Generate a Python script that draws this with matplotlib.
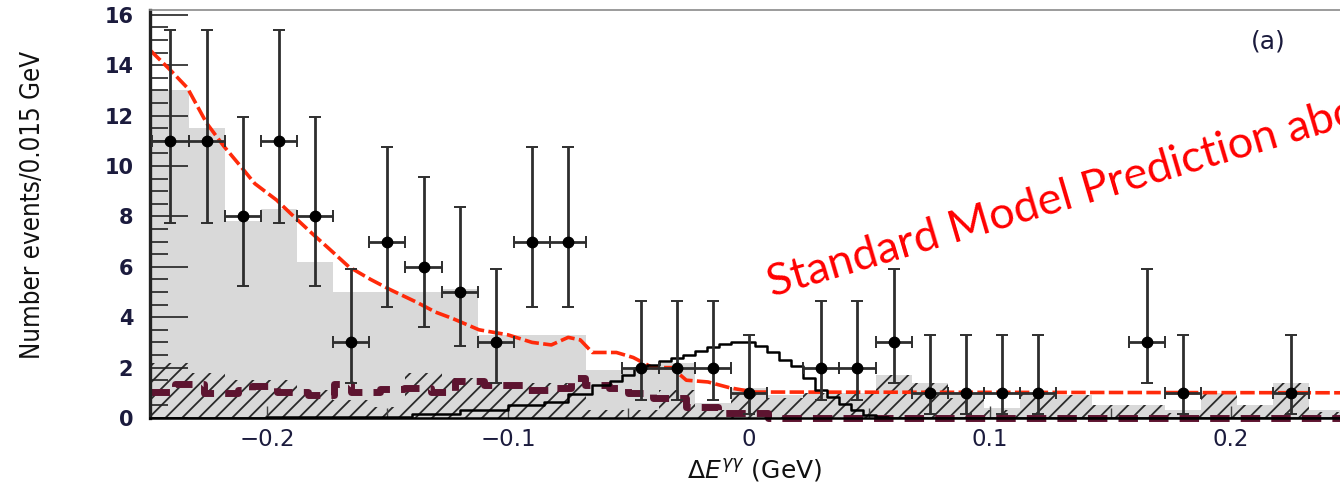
import numpy as np
import matplotlib
matplotlib.use("Agg")
import matplotlib.pyplot as plt
from matplotlib import font_manager
from matplotlib.ticker import MultipleLocator

# ---------------- data ----------------
# bin centres (0.015 GeV bins)
bin_centers = [-0.24, -0.225, -0.21, -0.195, -0.18, -0.165, -0.15, -0.135, -0.12,
               -0.105, -0.09, -0.075, -0.06, -0.045, -0.03, -0.015, 0.0, 0.015,
               0.03, 0.045, 0.06, 0.075, 0.09, 0.105, 0.12, 0.135, 0.15, 0.165,
               0.18, 0.195, 0.21, 0.225, 0.24]
counts = [11, 11, 8, 11, 8, 3, 7, 6, 5, 3, 7, 7, 0, 2, 2, 2, 1, 0,
          2, 2, 3, 1, 1, 1, 1, 0, 0, 3, 1, 0, 0, 1, 0]
# 68% Poisson intervals used for the error bars
poisson_lo = {1: 0.17, 2: 0.71, 3: 1.37, 5: 2.84, 6: 3.62, 7: 4.42, 8: 5.24, 11: 7.73}
poisson_hi = {1: 3.30, 2: 4.64, 3: 5.92, 5: 8.38, 6: 9.58, 7: 10.77, 8: 11.94, 11: 15.41}

# total background (grey) and peaking background (hatched)
bkg_total = [13.0, 11.5, 7.8, 8.3, 6.2, 5.0, 5.0, 5.0, 5.1, 3.3, 3.3, 3.3, 1.9, 1.9,
             2.2, 0.6, 1.2, 0.9, 1.0, 1.0, 1.7, 1.4, 0.9, 0.4, 1.0, 0.9, 0.5, 0.5,
             0.3, 1.0, 0.5, 1.4, 0.3]
bkg_peaking = [2.2, 1.8, 1.5, 1.5, 1.1, 0.7, 0.45, 1.8, 1.6, 1.4, 1.4, 1.4, 0.3, 0.3,
               1.1, 0.3, 1.0, 0.8, 1.0, 1.0, 1.7, 1.4, 0.8, 0.3, 1.0, 0.9, 0.5, 0.5,
               0.2, 1.0, 0.5, 1.4, 0.25]

# fit projection (red dashed)
fit_x = [-0.2485, -0.24, -0.233, -0.225, -0.218, -0.211, -0.205, -0.196, -0.19,
         -0.181, -0.174, -0.166, -0.157, -0.149, -0.138, -0.13, -0.123, -0.112,
         -0.1, -0.09, -0.082, -0.075, -0.07, -0.065, -0.055, -0.048, -0.04,
         -0.032, -0.026, -0.017, -0.008, 0.002, 0.25]
fit_y = [14.6, 13.8, 13.1, 11.7, 10.8, 10.0, 9.3, 8.65, 8.1, 7.3, 6.7, 6.0, 5.5,
         5.1, 4.6, 4.2, 3.95, 3.5, 3.3, 3.0, 2.9, 3.2, 3.1, 2.6, 2.6, 2.4, 2.0,
         2.0, 1.5, 1.43, 1.2, 1.03, 1.0]

# non-peaking component (maroon dashed, step starts)
comb_x = [-0.2485, -0.238, -0.226, -0.212, -0.206, -0.196, -0.183, -0.172, -0.165,
          -0.153, -0.143, -0.132, -0.122, -0.11, -0.093, -0.082, -0.074, -0.068,
          -0.058, -0.05, -0.04, -0.026, -0.013, 0.008, 0.25]
comb_y = [1.03, 1.35, 1.0, 1.1, 1.25, 1.03, 0.9, 1.35, 1.03, 1.15, 1.2, 1.03, 1.45,
          1.3, 1.1, 1.2, 1.6, 1.3, 1.2, 1.0, 0.8, 0.44, 0.2, 0.0, 0.0]

# signal shape (black step line)
sig_x = [-0.25, -0.15, -0.13, -0.11, -0.09, -0.08, -0.07, -0.06, -0.055, -0.05,
         -0.045, -0.04, -0.035, -0.03, -0.025, -0.02, -0.015, -0.01, -0.005, 0.0,
         0.005, 0.01, 0.015, 0.02, 0.025, 0.03, 0.035, 0.04, 0.045, 0.05, 0.055,
         0.06, 0.25]
sig_y = [0.0, 0.05, 0.15, 0.3, 0.5, 0.65, 0.95, 1.3, 1.45, 1.7, 2.0, 2.1, 2.25,
         2.4, 2.5, 2.65, 2.8, 2.95, 3.0, 3.0, 2.85, 2.6, 2.3, 2.05, 1.6, 1.1, 0.85,
         0.55, 0.3, 0.12, 0.03, 0.0, 0.0]

x_range = (-0.2485, 0.2452)
y_range = (0, 16.19)
bin_half = 0.0075

# ---------------- fonts ----------------
names = {f.name for f in font_manager.fontManager.ttflist}
narrow = "Liberation Sans Narrow" if "Liberation Sans Narrow" in names else "DejaVu Sans"
label_color = "#1b1b3d"
plt.rcParams["hatch.linewidth"] = 1.3

# ---------------- figure ----------------
W, H = 1340, 483
fig = plt.figure(figsize=(W / 100, H / 100), dpi=100)
ax = fig.add_axes([150 / W, (H - 418) / H, (W - 150) / W, (418 - 10) / H])

centers = np.array(bin_centers)
edges = np.concatenate([[x_range[0]], centers[:-1] + bin_half, [centers[-1] + bin_half]])

ax.stairs(bkg_total, edges, fill=True, color="#d9d9d9", zorder=1)
ax.stairs(bkg_peaking, edges, fill=True, facecolor="none", edgecolor="#2a2a2a",
          hatch="//", linewidth=0, zorder=1.2)

ax.plot(fit_x, fit_y, color="#ff2a0a", lw=2.6, dashes=(4, 1.2), zorder=2.2)
ax.plot(comb_x, comb_y, color="#5d1430", lw=5, drawstyle="steps-post",
        dashes=(2.8, 1.6), solid_capstyle="butt", zorder=2.1, clip_on=False)
ax.plot(sig_x, sig_y, color="black", lw=1.8, drawstyle="steps-mid", zorder=2.3)

cnt = np.array(counts)
sel = cnt > 0
xs = centers[sel]
ys = cnt[sel]
lo = np.array([ys_i - poisson_lo[ys_i] for ys_i in ys])
hi = np.array([poisson_hi[ys_i] - ys_i for ys_i in ys])
ax.errorbar(xs, ys, yerr=[lo, hi], xerr=bin_half, fmt="o", color="black",
            ms=7.5, ecolor="#2e2e2e", elinewidth=2.0, capsize=4, capthick=1.4,
            zorder=3)

ax.set_xlim(*x_range)
ax.set_ylim(*y_range)

ax.yaxis.set_major_locator(MultipleLocator(2))
ax.yaxis.set_minor_locator(MultipleLocator(0.5))
ax.xaxis.set_major_locator(MultipleLocator(0.1))
ax.xaxis.set_minor_locator(MultipleLocator(0.05))
ax.tick_params(axis="y", which="major", direction="in", length=27, width=1.2,
               color="#222222", pad=12)
ax.tick_params(axis="y", which="minor", direction="in", length=13, width=1.2,
               color="#222222")
ax.tick_params(axis="x", which="major", direction="in", length=9, width=1.0,
               color="#444444", pad=7)
ax.tick_params(axis="x", which="minor", direction="in", length=7, width=1.0,
               color="#444444")
ax.set_xticks([-0.2, -0.1, 0, 0.1, 0.2])
ax.set_xticklabels(["\u22120.2", "\u22120.1", "0", "0.1", "0.2"])

for lab in ax.get_yticklabels():
    lab.set_fontsize(15)
    lab.set_fontweight("bold")
    lab.set_color(label_color)
for lab in ax.get_xticklabels():
    lab.set_fontsize(16.5)
    lab.set_color(label_color)

ax.spines["right"].set_visible(False)
ax.spines["top"].set_color("#8a8a8a")
ax.spines["top"].set_linewidth(1.2)
ax.spines["left"].set_linewidth(2.4)
ax.spines["left"].set_color("#222222")
ax.spines["bottom"].set_linewidth(1.8)

fig.text(755 / W, 1 - 478 / H, r"$\Delta E^{\gamma\gamma}$ (GeV)", ha="center",
         va="baseline", fontsize=18, color="#111111")
fig.text(33 / W, 1 - 205 / H, "Number events/0.015 GeV", rotation=90,
         ha="center", va="center", fontsize=18.5, family=narrow,
         fontstretch="condensed", color="#111111")
fig.text(1268 / W, 1 - 41 / H, "(a)", ha="center", va="center", fontsize=18,
         color=label_color)
fig.text(772 / W, 1 - 297 / H, "Standard Model Prediction above",
         rotation=16.5, rotation_mode="anchor", ha="left", va="baseline",
         fontsize=32.5, family="Lato", color="#ff0000")

fig.savefig("out.png", dpi=100)
